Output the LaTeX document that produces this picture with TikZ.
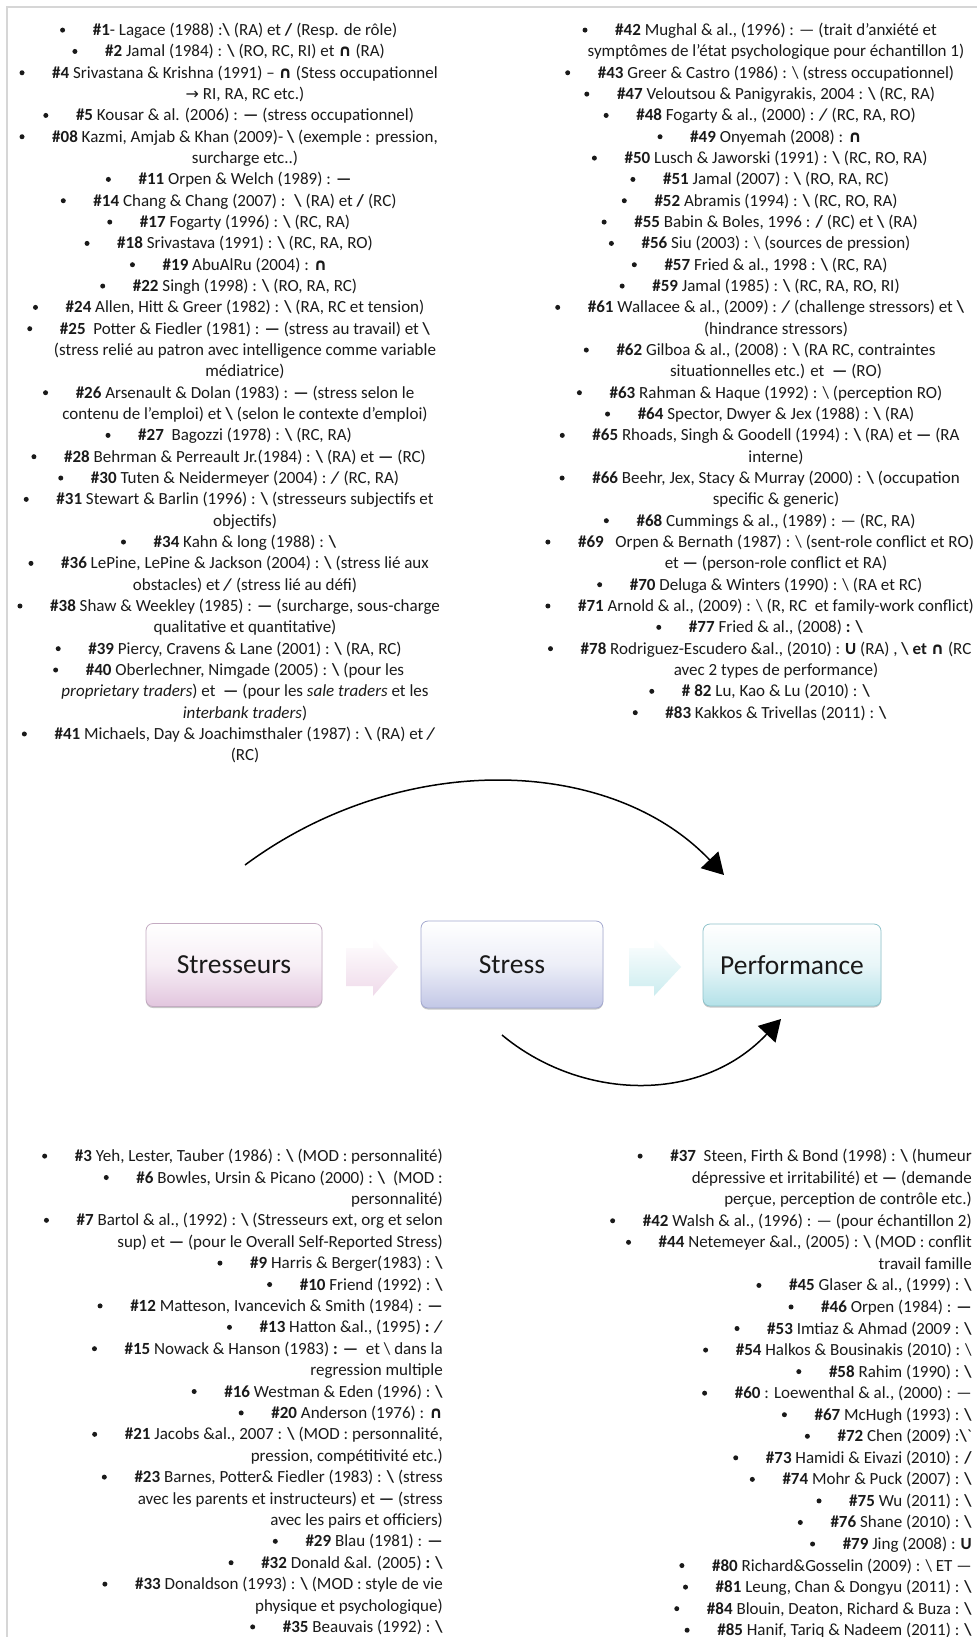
\documentclass[tikz,border=0pt]{standalone}
\usepackage{fontspec}
\setmainfont{Carlito}
\newfontfamily\symfont{DejaVu Sans}
\usetikzlibrary{arrows.meta,calc,shadows}

\definecolor{txtcol}{HTML}{1A1A1A}
\definecolor{edgecol}{HTML}{D6D6D6}
\definecolor{stresfill}{HTML}{E2C6DE}
\definecolor{stresline}{HTML}{C4ABC2}
\definecolor{stressfill}{HTML}{C2C7E6}
\definecolor{stressline}{HTML}{A3A8CF}
\definecolor{perffill}{HTML}{B3E1E8}
\definecolor{perfline}{HTML}{8EC3CB}
\definecolor{chevpink}{HTML}{EFDAEA}
\definecolor{chevcyan}{HTML}{CBECEF}

% reference number in bold, and the bold signs used in the lists
\newcommand{\rn}[1]{\textbf{\##1}}
\newcommand{\bsl}{\textbf{\textbackslash}}
\newcommand{\fsl}{\textbf{/}}
\newcommand{\fsli}{\textbf{\textit{/}}}
\newcommand{\dsh}{\textbf{—}}
\newcommand{\intr}{{\symfont\bfseries\fontsize{16.5}{16.5}\selectfont ∩}}
\newcommand{\rarr}{{\symfont\fontsize{16}{16}\selectfont →}}

% one line of a list: centred columns (top) and right-aligned columns (bottom)
\newcommand{\TL}[2]{\node[txt,anchor=base] (tl#1) at (245,{35.6+#1*21.33}) {#2};}
\newcommand{\TR}[2]{\node[txt,anchor=base] (tr#1) at (776,{35.6+#1*21.33}) {#2};}
\newcommand{\BL}[2]{\node[txt,anchor=base east] (bl#1) at (443,{1161.6+#1*21.4}) {#2};}
\newcommand{\BR}[2]{\node[txt,anchor=base east] (br#1) at (972,{1161.6+#1*21.55}) {#2};}
\newcommand{\dotat}[1]{\fill[txtcol] ($(#1.base west)+(-30,-5.5)$) circle (2.5pt);}
\newcommand{\TLb}[2]{\TL{#1}{#2}\dotat{tl#1}}
\newcommand{\TRb}[2]{\TR{#1}{#2}\dotat{tr#1}}
\newcommand{\BLb}[2]{\BL{#1}{#2}\dotat{bl#1}}
\newcommand{\BRb}[2]{\BR{#1}{#2}\dotat{br#1}}

\tikzset{
  txt/.style={font=\fontsize{17}{21}\selectfont, inner sep=0pt, text=txtcol},
  procbox/.style={rounded corners=7pt, inner sep=0pt, line width=0.8pt,
    font=\fontsize{27.5}{30}\selectfont, text=txtcol,
    drop shadow={shadow xshift=0pt, shadow yshift=-1.5pt, opacity=0.22, fill=black}},
  curvearrow/.style={line width=1.5pt, -{Triangle[length=21pt,width=24pt]}},
}

\begin{document}
\begin{tikzpicture}[x=1pt,y=-1pt]
\useasboundingbox (0,0) rectangle (977,1637);
\clip (0,0) rectangle (977,1637);
\fill[white] (0,0) rectangle (977,1637);
\draw[edgecol, line width=1.4pt] (7,1637) -- (7,7) -- (977,7);

% ---------- upper left list ----------
\TLb{0}{\rn{1}- Lagace (1988) :\bsl{} (RA) et \fsl{} (Resp. de rôle)}
\TLb{1}{\rn{2} Jamal (1984) : \bsl{} (RO, RC, RI) et \intr{} (RA)}
\TLb{2}{\rn{4} Srivastana \& Krishna (1991) – \intr{} (Stess occupationnel}
\TL{3}{\rarr{} RI, RA, RC etc.)}
\TLb{4}{\rn{5} Kousar \& al. (2006) : \dsh{} (stress occupationnel)}
\TLb{5}{\rn{08} Kazmi, Amjab \& Khan (2009)- \bsl{} (exemple : pression,}
\TL{6}{surcharge etc..)}
\TLb{7}{\rn{11} Orpen \& Welch (1989) : \dsh}
\TLb{8}{\rn{14} Chang \& Chang (2007) : \ \bsl{} (RA) et \fsl{} (RC)}
\TLb{9}{\rn{17} Fogarty (1996) : \bsl{} (RC, RA)}
\TLb{10}{\rn{18} Srivastava (1991) : \bsl{} (RC, RA, RO)}
\TLb{11}{\rn{19} AbuAlRu (2004) : \intr}
\TLb{12}{\rn{22} Singh (1998) : \bsl{} (RO, RA, RC)}
\TLb{13}{\rn{24} Allen, Hitt \& Greer (1982) : \bsl{} (RA, RC et tension)}
\TLb{14}{\rn{25}\ \ Potter \& Fiedler (1981) : \dsh{} (stress au travail) et \bsl}
\TL{15}{(stress relié au patron avec intelligence comme variable}
\TL{16}{médiatrice)}
\TLb{17}{\rn{26} Arsenault \& Dolan (1983) : \dsh{} (stress selon le}
\TL{18}{contenu de l’emploi) et \bsl{} (selon le contexte d’emploi)}
\TLb{19}{\rn{27}\ \ Bagozzi (1978) : \bsl{} (RC, RA)}
\TLb{20}{\rn{28} Behrman \& Perreault Jr.(1984) : \bsl{} (RA) et \dsh{} (RC)}
\TLb{21}{\rn{30} Tuten \& Neidermeyer (2004) : \fsli{} (RC, RA)}
\TLb{22}{\rn{31} Stewart \& Barlin (1996) : \bsl{} (stresseurs subjectifs et}
\TL{23}{objectifs)}
\TLb{24}{\rn{34} Kahn \& long (1988) : \bsl}
\TLb{25}{\rn{36} LePine, LePine \& Jackson (2004) : \bsl{} (stress lié aux}
\TL{26}{obstacles) et \fsli{} (stress lié au défi)}
\TLb{27}{\rn{38} Shaw \& Weekley (1985) : \dsh{} (surcharge, sous-charge}
\TL{28}{qualitative et quantitative)}
\TLb{29}{\rn{39} Piercy, Cravens \& Lane (2001) : \bsl{} (RA, RC)}
\TLb{30}{\rn{40} Oberlechner, Nimgade (2005) : \bsl{} (pour les}
\TL{31}{\textit{proprietary traders}) et\ \ \dsh{} (pour les \textit{sale traders} et les}
\TL{32}{\textit{interbank traders})}
\TLb{33}{\rn{41} Michaels, Day \& Joachimsthaler (1987) : \bsl{} (RA) et \fsli}
\TL{34}{(RC)}

% ---------- upper right list ----------
\TRb{0}{\rn{42} Mughal \& al., (1996) : — (trait d’anxiété et}
\TR{1}{symptômes de l’état psychologique pour échantillon 1)}
\TRb{2}{\rn{43} Greer \& Castro (1986) : \textbackslash{} (stress occupationnel)}
\TRb{3}{\rn{47} Veloutsou \& Panigyrakis, 2004 : \bsl{} (RC, RA)}
\TRb{4}{\rn{48} Fogarty \& al., (2000) : \fsli{} (RC, RA, RO)}
\TRb{5}{\rn{49} Onyemah (2008) : \intr}
\TRb{6}{\rn{50} Lusch \& Jaworski (1991) : \bsl{} (RC, RO, RA)}
\TRb{7}{\rn{51} Jamal (2007) : \bsl{} (RO, RA, RC)}
\TRb{8}{\rn{52} Abramis (1994) : \bsl{} (RC, RO, RA)}
\TRb{9}{\rn{55} Babin \& Boles, 1996 : \fsl{} (RC) et \bsl{} (RA)}
\TRb{10}{\rn{56} Siu (2003) : \textbackslash{} (sources de pression)}
\TRb{11}{\rn{57} Fried \& al., 1998 : \bsl{} (RC, RA)}
\TRb{12}{\rn{59} Jamal (1985) : \bsl{} (RC, RA, RO, RI)}
\TRb{13}{\rn{61} Wallacee \& al., (2009) : \fsli{} (challenge stressors) et \bsl}
\TR{14}{(hindrance stressors)}
\TRb{15}{\rn{62} Gilboa \& al., (2008) : \bsl{} (RA RC, contraintes}
\TR{16}{situationnelles etc.) et\ \ \dsh{} (RO)}
\TRb{17}{\rn{63} Rahman \& Haque (1992) : \textbackslash{} (perception RO)}
\TRb{18}{\rn{64} Spector, Dwyer \& Jex (1988) : \bsl{} (RA)}
\TRb{19}{\rn{65} Rhoads, Singh \& Goodell (1994) : \bsl{} (RA) et \dsh{} (RA}
\TR{20}{interne)}
\TRb{21}{\rn{66} Beehr, Jex, Stacy \& Murray (2000) : \bsl{} (occupation}
\TR{22}{specific \& generic)}
\TRb{23}{\rn{68} Cummings \& al., (1989) : — (RC, RA)}
\TRb{24}{\rn{69}\ \ \ Orpen \& Bernath (1987) : \textbackslash{} (sent-role conflict et RO)}
\TR{25}{et \dsh{} (person-role conflict et RA)}
\TRb{26}{\rn{70} Deluga \& Winters (1990) : \textbackslash{} (RA et RC)}
\TRb{27}{\rn{71} Arnold \& al., (2009) : \textbackslash{} (R, RC\ \ et family-work conflict)}
\TRb{28}{\rn{77} Fried \& al., (2008) \textbf{: \textbackslash}}
\TRb{29}{\rn{78} Rodriguez-Escudero \&al., (2010) : \textbf{U} (RA) , \textbf{\textbackslash{} et} \intr{} (RC}
\TR{30}{avec 2 types de performance)}
\TRb{31}{\textbf{\# 82} Lu, Kao \& Lu (2010) : \bsl}
\TRb{32}{\rn{83} Kakkos \& Trivellas (2011) : \bsl}

% ---------- process in the middle ----------
\node[procbox, draw=stresline, top color=white, bottom color=stresfill,
      middle color=stresfill!30!white, minimum width=176pt, minimum height=83pt]
      (stresseurs) at (234,965) {Stresseurs};
\node[procbox, draw=stressline, top color=white, bottom color=stressfill,
      middle color=stressfill!30!white, minimum width=182pt, minimum height=87pt]
      (stress) at (512,964.5) {Stress};
\node[procbox, draw=perfline, top color=white, bottom color=perffill,
      middle color=perffill!30!white, minimum width=178pt, minimum height=82pt]
      (performance) at (792,965) {Performance};

% faded block arrows between the boxes
\shade[top color=white, bottom color=chevpink]
  (346,948) -- (373,948) -- (373,938) -- (398,967) -- (373,996) -- (373,986) -- (346,986) -- cycle;
\shade[top color=white, bottom color=chevcyan]
  (629,948) -- (654,948) -- (654,938) -- (681,967) -- (654,996) -- (654,986) -- (629,986) -- cycle;

% curved links towards Performance
\coordinate (topStart) at (245,865);
\coordinate (topEnd) at (724,875);
\draw[curvearrow] (topStart) .. controls (400,750) and (610,755) .. (topEnd);
\coordinate (botStart) at (502,1035);
\coordinate (botEnd) at (781,1019);
\draw[curvearrow] (botStart) .. controls (580,1100) and (700,1105) .. (botEnd);

% ---------- lower left list ----------
\BLb{0}{\rn{3} Yeh, Lester, Tauber (1986) : \bsl{} (MOD : personnalité)}
\BLb{1}{\rn{6} Bowles, Ursin \& Picano (2000) : \bsl\ \ (MOD :}
\BL{2}{personnalité)}
\BLb{3}{\rn{7} Bartol \& al., (1992) : \bsl{} (Stresseurs ext, org et selon}
\BL{4}{sup) et \dsh{} (pour le Overall Self-Reported Stress)}
\BLb{5}{\rn{9} Harris \& Berger(1983) : \bsl}
\BLb{6}{\rn{10} Friend (1992) : \bsl}
\BLb{7}{\rn{12} Matteson, Ivancevich \& Smith (1984) : \dsh}
\BLb{8}{\rn{13} Hatton \&al., (1995) \textbf{: \textit{/}}}
\BLb{9}{\rn{15} Nowack \& Hanson (1983) \textbf{: —}\ \ et \textbackslash{} dans la}
\BL{10}{regression multiple}
\BLb{11}{\rn{16} Westman \& Eden (1996) : \bsl}
\BLb{12}{\rn{20} Anderson (1976) : \intr}
\BLb{13}{\rn{21} Jacobs \&al., 2007 : \bsl{} (MOD : personnalité,}
\BL{14}{pression, compétitivité etc.)}
\BLb{15}{\rn{23} Barnes, Potter\& Fiedler (1983) : \bsl{} (stress}
\BL{16}{avec les parents et instructeurs) et \dsh{} (stress}
\BL{17}{avec les pairs et officiers)}
\BLb{18}{\rn{29} Blau (1981) : \dsh}
\BLb{19}{\rn{32} Donald \&al. (2005) \textbf{: \textbackslash}}
\BLb{20}{\rn{33} Donaldson (1993) : \bsl{} (MOD : style de vie}
\BL{21}{physique et psychologique)}
\BLb{22}{\rn{35} Beauvais (1992) : \bsl}

% ---------- lower right list ----------
\BRb{0}{\rn{37}\ \ Steen, Firth \& Bond (1998) : \bsl{} (humeur}
\BR{1}{dépressive et irritabilité) et \dsh{} (demande}
\BR{2}{perçue, perception de contrôle etc.)}
\BRb{3}{\rn{42} Walsh \& al., (1996) : — (pour échantillon 2)}
\BRb{4}{\rn{44} Netemeyer \&al., (2005) : \bsl{} (MOD : conflit}
\BR{5}{travail famille}
\BRb{6}{\rn{45} Glaser \& al., (1999) : \bsl}
\BRb{7}{\rn{46} Orpen (1984) : \dsh}
\BRb{8}{\rn{53} Imtiaz \& Ahmad (2009 : \bsl}
\BRb{9}{\rn{54} Halkos \& Bousinakis (2010) : \textbackslash}
\BRb{10}{\rn{58} Rahim (1990) : \bsl}
\BRb{11}{\rn{60} : Loewenthal \& al., (2000) : —}
\BRb{12}{\rn{67} McHugh (1993) : \bsl}
\BRb{13}{\rn{72} Chen (2009) :\bsl\textasciigrave}
\BRb{14}{\rn{73} Hamidi \& Eivazi (2010) : \fsl}
\BRb{15}{\rn{74} Mohr \& Puck (2007) : \bsl}
\BRb{16}{\rn{75} Wu (2011) : \bsl}
\BRb{17}{\rn{76} Shane (2010) : \bsl}
\BRb{18}{\rn{79} Jing (2008) : \textbf{U}}
\BRb{19}{\rn{80} Richard\&Gosselin (2009) : \textbackslash{} ET —}
\BRb{20}{\rn{81} Leung, Chan \& Dongyu (2011) : \bsl}
\BRb{21}{\rn{84} Blouin, Deaton, Richard \& Buza : \bsl}
\BRb{22}{\rn{85} Hanif, Tariq \& Nadeem (2011) : \bsl}
\end{tikzpicture}
\end{document}
